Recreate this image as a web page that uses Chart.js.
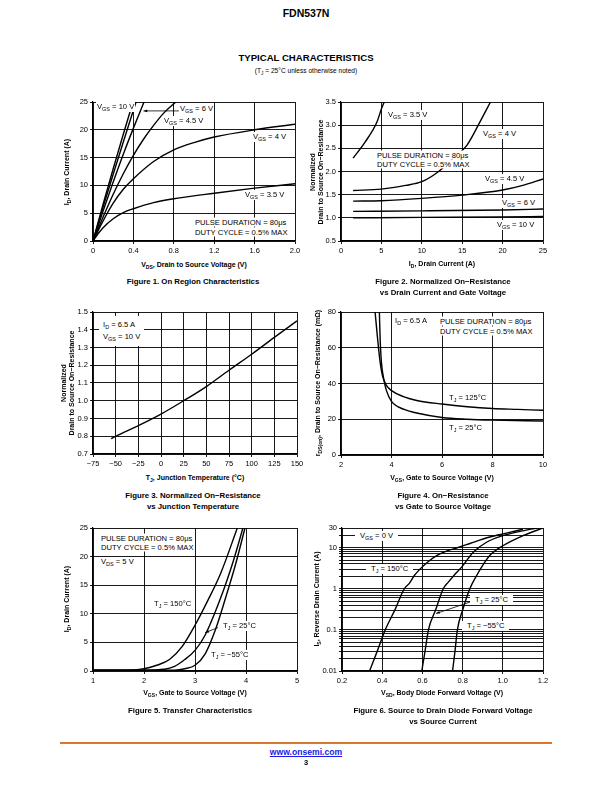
<!DOCTYPE html>
<html lang="en">
<head>
<meta charset="UTF-8">
<title>FDN537N Typical Characteristics</title>
<script src="https://cdn.jsdelivr.net/npm/chart.js"></script>
<style>
    body {
        margin: 0;
        width: 612px;
        height: 792px;
        position: relative;
        background: #fff;
        font-family: "Liberation Sans", Arial, sans-serif;
        color: #000;
        overflow: hidden;
    }
    canvas { position: absolute; }
    .t { position: absolute; white-space: nowrap; transform: translate(-50%, -50%); }
    .b { font-weight: bold; }
    .lbl { position: absolute; white-space: nowrap; background: #fff; font-size: 7.6px; line-height: 9px; padding: 0 1px; transform: translateY(-50%); }
    .wide { padding: 0 5px; }
    .ax { position: absolute; white-space: nowrap; font-weight: bold; font-size: 7px; transform: translate(-50%, -50%); }
    .ay { position: absolute; white-space: nowrap; font-weight: bold; font-size: 7px; line-height: 8px; text-align: center; transform: translate(-50%, -50%) rotate(-90deg); }
    .cap { position: absolute; white-space: nowrap; font-weight: bold; font-size: 7.8px; line-height: 11px; text-align: center; transform: translateX(-50%); }
    .s { font-size: 0.72em; position: relative; top: 0.35em; }
    .rule { position: absolute; left: 60px; top: 742px; width: 492px; height: 2px; background: #d9782d; }
</style>
</head>
<body>
<div class="t b" style="left:306px;top:13px;font-size:10.5px">FDN537N</div>
<div class="t b" style="left:306px;top:57px;font-size:9.6px">TYPICAL CHARACTERISTICS</div>
<div class="t" style="left:306px;top:70px;font-size:6.6px">(T<span class="s">J</span> = 25°C unless otherwise noted)</div>

<canvas id="fig1"></canvas>
<canvas id="fig2"></canvas>
<canvas id="fig3"></canvas>
<canvas id="fig4"></canvas>
<canvas id="fig5"></canvas>
<canvas id="fig6"></canvas>

<!-- figure 1 -->
<div class="lbl" style="left:96px;top:107px">V<span class="s">GS</span> = 10 V</div>
<div class="lbl" style="left:179px;top:109px">V<span class="s">GS</span> = 6 V</div>
<div class="lbl" style="left:163px;top:121px">V<span class="s">GS</span> = 4.5 V</div>
<div class="lbl" style="left:252px;top:137px">V<span class="s">GS</span> = 4 V</div>
<div class="lbl" style="left:244px;top:195px">V<span class="s">GS</span> = 3.5 V</div>
<div class="lbl" style="left:194px;top:222px">PULSE DURATION = 80μs</div>
<div class="lbl" style="left:194px;top:232px">DUTY CYCLE = 0.5% MAX</div>
<div class="ax" style="left:194px;top:264px">V<span class="s">DS</span>, Drain to Source Voltage (V)</div>
<div class="ay" style="left:67px;top:172px">I<span class="s">D</span>, Drain Current (A)</div>
<div class="cap" style="left:193px;top:276px">Figure 1. On Region Characteristics</div>

<!-- figure 2 -->
<div class="lbl" style="left:387px;top:115px">V<span class="s">GS</span> = 3.5 V</div>
<div class="lbl" style="left:482px;top:134px">V<span class="s">GS</span> = 4 V</div>
<div class="lbl" style="left:376px;top:155px">PULSE DURATION = 80μs</div>
<div class="lbl" style="left:376px;top:164px">DUTY CYCLE = 0.5% MAX</div>
<div class="lbl" style="left:484px;top:179px">V<span class="s">GS</span> = 4.5 V</div>
<div class="lbl" style="left:501px;top:203px">V<span class="s">GS</span> = 6 V</div>
<div class="lbl" style="left:496px;top:225px">V<span class="s">GS</span> = 10 V</div>
<div class="ax" style="left:442px;top:263px">I<span class="s">D</span>, Drain Current (A)</div>
<div class="ay" style="left:317px;top:172px">Normalized<br>Drain to Source On−Resistance</div>
<div class="cap" style="left:443px;top:276px">Figure 2. Normalized On−Resistance<br>vs Drain Current and Gate Voltage</div>

<!-- figure 3 -->
<div class="lbl" style="left:99px;top:331px;padding:3px 4px;line-height:11px">I<span class="s">D</span> = 6.5 A<br>V<span class="s">GS</span> = 10 V</div>
<div class="ax" style="left:195px;top:477px">T<span class="s">J</span>, Junction Temperature (°C)</div>
<div class="ay" style="left:68px;top:383px">Normalized<br>Drain to Source On−Resistance</div>
<div class="cap" style="left:193px;top:490px">Figure 3. Normalized On−Resistance<br>vs Junction Temperature</div>

<!-- figure 4 -->
<div class="lbl" style="left:394px;top:321px">I<span class="s">D</span> = 6.5 A</div>
<div class="lbl" style="left:439px;top:321px">PULSE DURATION = 80μs</div>
<div class="lbl" style="left:439px;top:331px">DUTY CYCLE = 0.5% MAX</div>
<div class="lbl" style="left:448px;top:398px">T<span class="s">J</span> = 125°C</div>
<div class="lbl" style="left:448px;top:428px">T<span class="s">J</span> = 25°C</div>
<div class="ax" style="left:442px;top:477px">V<span class="s">GS</span>, Gate to Source Voltage (V)</div>
<div class="ay" style="left:318px;top:383px">r<span class="s">DS(on)</span>, Drain to Source On−Resistance (mΩ)</div>
<div class="cap" style="left:443px;top:490px">Figure 4. On−Resistance<br>vs Gate to Source Voltage</div>

<!-- figure 5 -->
<div class="lbl" style="left:100px;top:538px">PULSE DURATION = 80μs</div>
<div class="lbl" style="left:100px;top:547px">DUTY CYCLE = 0.5% MAX</div>
<div class="lbl" style="left:100px;top:562px">V<span class="s">DS</span> = 5 V</div>
<div class="lbl" style="left:153px;top:604px">T<span class="s">J</span> = 150°C</div>
<div class="lbl" style="left:222px;top:626px">T<span class="s">J</span> = 25°C</div>
<div class="lbl" style="left:210px;top:655px">T<span class="s">J</span> = −55°C</div>
<div class="ax" style="left:195px;top:692px">V<span class="s">GS</span>, Gate to Source Voltage (V)</div>
<div class="ay" style="left:67px;top:599px">I<span class="s">D</span>, Drain Current (A)</div>
<div class="cap" style="left:190px;top:705px">Figure 5. Transfer Characteristics</div>

<!-- figure 6 -->
<div class="lbl wide" style="left:355px;top:536px">V<span class="s">GS</span> = 0 V</div>
<div class="lbl wide" style="left:366px;top:569px">T<span class="s">J</span> = 150°C</div>
<div class="lbl wide" style="left:470px;top:600px">T<span class="s">J</span> = 25°C</div>
<div class="lbl wide" style="left:462px;top:626px">T<span class="s">J</span> = −55°C</div>
<div class="ax" style="left:442px;top:692px">V<span class="s">SD</span>, Body Diode Forward Voltage (V)</div>
<div class="ay" style="left:317px;top:599px">I<span class="s">S</span>, Reverse Drain Current (A)</div>
<div class="cap" style="left:443px;top:705px">Figure 6. Source to Drain Diode Forward Voltage<br>vs Source Current</div>

<div class="rule"></div>
<div class="t b" style="left:306px;top:752px;font-size:8.6px;color:#1a1ae6;text-decoration:underline">www.onsemi.com</div>
<div class="t b" style="left:306px;top:762px;font-size:7.5px">3</div>

<script>
    const FONT = '"Liberation Sans", Arial, sans-serif';

    // Figure 1: on region, ID vs VDS
    const fig1XTicks = [0, 0.4, 0.8, 1.2, 1.6, 2.0];
    const fig1XLabels = ['0', '0.4', '0.8', '1.2', '1.6', '2.0'];
    const fig1YTicks = [0, 5, 10, 15, 20, 25];
    const fig1YLabels = ['0', '5', '10', '15', '20', '25'];
    const fig1Vgs10 = [[0, 0], [0.1, 6.6], [0.2, 13], [0.3, 19.2], [0.396, 25]];
    const fig1VgsB = [[0, 0], [0.1, 6.1], [0.2, 12], [0.3, 17.8], [0.426, 25]];
    const fig1Vgs6 = [[0, 0], [0.1, 5.4], [0.2, 10.6], [0.3, 15.6], [0.4, 20.3], [0.505, 25]];
    const fig1Vgs45 = [[0, 0], [0.1, 4.3], [0.2, 8.4], [0.3, 12.1], [0.4, 15.4], [0.5, 18.3], [0.6, 20.8], [0.7, 23], [0.82, 25]];
    const fig1Vgs4 = [[0, 0], [0.1, 3.6], [0.2, 6.8], [0.3, 9.3], [0.4, 11.2], [0.6, 14.3], [0.8, 16.4], [1.0, 17.7], [1.2, 18.7], [1.6, 20], [2.0, 21]];
    const fig1Vgs35 = [[0, 0], [0.05, 1.3], [0.1, 2.4], [0.2, 4.0], [0.3, 5.1], [0.4, 5.8], [0.6, 6.9], [0.8, 7.6], [1.2, 8.6], [1.6, 9.5], [2.0, 10.3]];

    // Figure 2: normalized RDS(on) vs ID
    const fig2XTicks = [0, 5, 10, 15, 20, 25];
    const fig2XLabels = ['0', '5', '10', '15', '20', '25'];
    const fig2YTicks = [0.5, 1.0, 1.5, 2.0, 2.5, 3.0, 3.5];
    const fig2YLabels = ['0.5', '1.0', '1.5', '2.0', '2.5', '3.0', '3.5'];
    const fig2Vgs35 = [[1.5, 2.29], [3, 2.64], [4.45, 3.07], [5, 3.35], [5.35, 3.5]];
    const fig2Vgs4 = [[1.5, 1.59], [5, 1.62], [8, 1.7], [10, 1.78], [12, 1.99], [14, 2.3], [15.6, 2.57], [17.2, 3.07], [18.5, 3.5]];
    const fig2Vgs45 = [[1.5, 1.36], [5, 1.37], [10, 1.42], [15, 1.49], [20, 1.6], [22.5, 1.7], [25, 1.84]];
    const fig2Vgs6 = [[1.5, 1.14], [10, 1.15], [20, 1.17], [25, 1.19]];
    const fig2Vgs10 = [[1.5, 1.0], [10, 1.01], [20, 1.02], [25, 1.03]];

    // Figure 3: normalized RDS(on) vs TJ
    const fig3XTicks = [-75, -50, -25, 0, 25, 50, 75, 100, 125, 150];
    const fig3XLabels = ['−75', '−50', '−25', '0', '25', '50', '75', '100', '125', '150'];
    const fig3YTicks = [0.7, 0.8, 0.9, 1.0, 1.1, 1.2, 1.3, 1.4, 1.5];
    const fig3YLabels = ['0.7', '0.8', '0.9', '1.0', '1.1', '1.2', '1.3', '1.4', '1.5'];
    const fig3Curve = [[-55, 0.786], [-50, 0.8], [-25, 0.86], [0, 0.925], [25, 1.0], [50, 1.08], [75, 1.172], [100, 1.262], [125, 1.357], [150, 1.45]];

    // Figure 4: RDS(on) vs VGS
    const fig4XTicks = [2, 4, 6, 8, 10];
    const fig4XLabels = ['2', '4', '6', '8', '10'];
    const fig4YTicks = [0, 20, 40, 60, 80];
    const fig4YLabels = ['0', '20', '40', '60', '80'];
    const fig4Tj125 = [[3.35, 80], [3.45, 65], [3.55, 52], [3.65, 44], [3.8, 39], [4, 36], [4.5, 32.5], [5, 30.5], [6, 28.5], [7, 27], [8, 26], [9, 25.5], [10, 25]];
    const fig4Tj25 = [[3.52, 80], [3.55, 65], [3.6, 52], [3.7, 42], [3.8, 36], [4, 30], [4.5, 25.5], [5, 23.5], [6, 21], [7, 20], [8, 19.5], [10, 19]];

    // Figure 5: transfer characteristics
    const fig5XTicks = [1, 2, 3, 4, 5];
    const fig5XLabels = ['1', '2', '3', '4', '5'];
    const fig5YTicks = [0, 5, 10, 15, 20, 25];
    const fig5YLabels = ['0', '5', '10', '15', '20', '25'];
    const fig5Tj150 = [[1, 0.15], [1.5, 0.15], [1.8, 0.2], [2, 0.4], [2.25, 1.0], [2.5, 2.0], [2.75, 4.3], [3, 8.0], [3.25, 12.3], [3.5, 17], [3.83, 25]];
    const fig5Tj25 = [[1, 0.15], [2, 0.15], [2.4, 0.3], [2.6, 0.8], [2.8, 2.0], [3, 3.6], [3.2, 6.3], [3.5, 12.7], [3.75, 19.2], [3.94, 25]];
    const fig5TjM55 = [[1, 0.15], [2.6, 0.15], [2.8, 0.4], [3, 1.0], [3.2, 3.0], [3.4, 7.2], [3.6, 12.8], [3.8, 18.8], [3.98, 25]];

    // Figure 6: body diode forward voltage
    const fig6XTicks = [0.2, 0.4, 0.6, 0.8, 1.0, 1.2];
    const fig6XLabels = ['0.2', '0.4', '0.6', '0.8', '1.0', '1.2'];
    const fig6YGrid = [0.01, 0.02, 0.03, 0.04, 0.05, 0.06, 0.07, 0.08, 0.09,
                       0.1, 0.2, 0.3, 0.4, 0.5, 0.6, 0.7, 0.8, 0.9,
                       1, 2, 3, 4, 5, 6, 7, 8, 9, 10, 20, 30];
    const fig6YLabels = { 0.01: '0.01', 0.1: '0.1', 1: '1', 10: '10', 30: '30' };
    const fig6Tj150 = [[0.337, 0.01], [0.375, 0.03], [0.415, 0.1], [0.465, 0.32], [0.51, 1], [0.535, 1.35], [0.56, 2.1], [0.588, 3.0], [0.63, 4.6], [0.671, 6.4], [0.72, 8.2], [0.77, 9.8], [0.84, 12.8], [0.902, 16.2], [0.98, 20.5], [1.068, 25.8], [1.1, 28]];
    const fig6Tj25 = [[0.597, 0.01], [0.613, 0.03], [0.63, 0.1], [0.665, 0.3], [0.704, 1], [0.729, 1.45], [0.76, 2.2], [0.795, 3.35], [0.853, 7.7], [0.919, 13.5], [1.0, 19.5], [1.08, 24.5], [1.17, 30]];
    const fig6TjM55 = [[0.75, 0.01], [0.762, 0.03], [0.774, 0.1], [0.8, 0.3], [0.836, 1], [0.87, 2.1], [0.9, 3.7], [0.935, 6.4], [1.0, 11.1], [1.1, 19.5], [1.2, 30]];

    // leader lines from a label to its curve, in data units
    const leaderPlugin = {
        id: 'leaders',
        afterDatasetsDraw(chart, args, opts) {
            const lines = opts.lines || [];
            const ctx = chart.ctx;
            const xs = chart.scales.x, ys = chart.scales.y;
            ctx.save();
            ctx.strokeStyle = '#000';
            ctx.fillStyle = '#000';
            ctx.lineWidth = 0.8;
            lines.forEach(l => {
                const x1 = xs.getPixelForValue(l[0]), y1 = ys.getPixelForValue(l[1]);
                const x2 = xs.getPixelForValue(l[2]), y2 = ys.getPixelForValue(l[3]);
                ctx.beginPath();
                ctx.moveTo(x1, y1);
                ctx.lineTo(x2, y2);
                ctx.stroke();
                // small arrow head at the curve end
                const a = Math.atan2(y1 - y2, x1 - x2);
                ctx.beginPath();
                ctx.moveTo(x1, y1);
                ctx.lineTo(x1 - 4 * Math.cos(a - 0.35), y1 - 4 * Math.sin(a - 0.35));
                ctx.lineTo(x1 - 4 * Math.cos(a + 0.35), y1 - 4 * Math.sin(a + 0.35));
                ctx.closePath();
                ctx.fill();
            });
            ctx.restore();
        }
    };
    Chart.register(leaderPlugin);

    function axis(min, max, vals, labels, type) {
        return {
            type: type || 'linear',
            min: min,
            max: max,
            afterBuildTicks: s => { s.ticks = vals.map(v => ({ value: v })); },
            ticks: {
                callback: (v, i) => Array.isArray(labels) ? labels[i] : (labels[vals[i]] || ''),
                autoSkip: false,
                maxRotation: 0,
                padding: 2,
                color: '#000',
                font: { size: 7.5, family: FONT }
            },
            grid: { color: '#000', lineWidth: 0.9, tickLength: 3, tickColor: '#000' },
            border: { color: '#000', width: 1.2 }
        };
    }

    // box = plot area on the page: left, top, right, bottom
    function drawFig(id, box, x, y, curves, leaders) {
        const cv = document.getElementById(id);
        cv.width = box[2] - box[0] + 54;
        cv.height = box[3] - box[1] + 24;
        cv.style.left = (box[0] - 40) + 'px';
        cv.style.top = (box[1] - 8) + 'px';
        x.afterFit = s => { s.height = 16; };
        y.afterFit = s => { s.width = 40; };
        new Chart(cv, {
            type: 'line',
            data: {
                datasets: curves.map(c => ({
                    data: c.map(p => ({ x: p[0], y: p[1] })),
                    borderColor: '#000',
                    borderWidth: 1.4,
                    pointRadius: 0,
                    fill: false,
                    cubicInterpolationMode: 'monotone'
                }))
            },
            options: {
                responsive: false,
                animation: false,
                devicePixelRatio: 1,
                layout: { padding: { top: 8, right: 14, left: 0, bottom: 0 } },
                scales: { x: x, y: y },
                plugins: {
                    legend: { display: false },
                    tooltip: { enabled: false },
                    leaders: { lines: leaders || [] }
                }
            }
        });
    }

    drawFig('fig1', [93, 102, 295, 241],
        axis(0, 2, fig1XTicks, fig1XLabels), axis(0, 25, fig1YTicks, fig1YLabels),
        [fig1Vgs10, fig1VgsB, fig1Vgs6, fig1Vgs45, fig1Vgs4, fig1Vgs35],
        [[0.5, 23.4, 0.85, 23.4]]);

    drawFig('fig2', [341, 102, 543, 241],
        axis(0, 25, fig2XTicks, fig2XLabels), axis(0.5, 3.5, fig2YTicks, fig2YLabels),
        [fig2Vgs35, fig2Vgs4, fig2Vgs45, fig2Vgs6, fig2Vgs10]);

    drawFig('fig3', [93, 312, 297, 454],
        axis(-75, 150, fig3XTicks, fig3XLabels), axis(0.7, 1.5, fig3YTicks, fig3YLabels),
        [fig3Curve]);

    drawFig('fig4', [341, 312, 543, 455],
        axis(2, 10, fig4XTicks, fig4XLabels), axis(0, 80, fig4YTicks, fig4YLabels),
        [fig4Tj125, fig4Tj25]);

    drawFig('fig5', [93, 528, 297, 671],
        axis(1, 5, fig5XTicks, fig5XLabels), axis(0, 25, fig5YTicks, fig5YLabels),
        [fig5Tj150, fig5Tj25, fig5TjM55],
        [[3.2, 6.7, 3.45, 7.6]]);

    drawFig('fig6', [342, 528, 543, 671],
        axis(0.2, 1.2, fig6XTicks, fig6XLabels), axis(0.01, 30, fig6YGrid, fig6YLabels, 'logarithmic'),
        [fig6Tj150, fig6Tj25, fig6TjM55],
        [[0.668, 0.25, 0.84, 0.48]]);
</script>
</body>
</html>
